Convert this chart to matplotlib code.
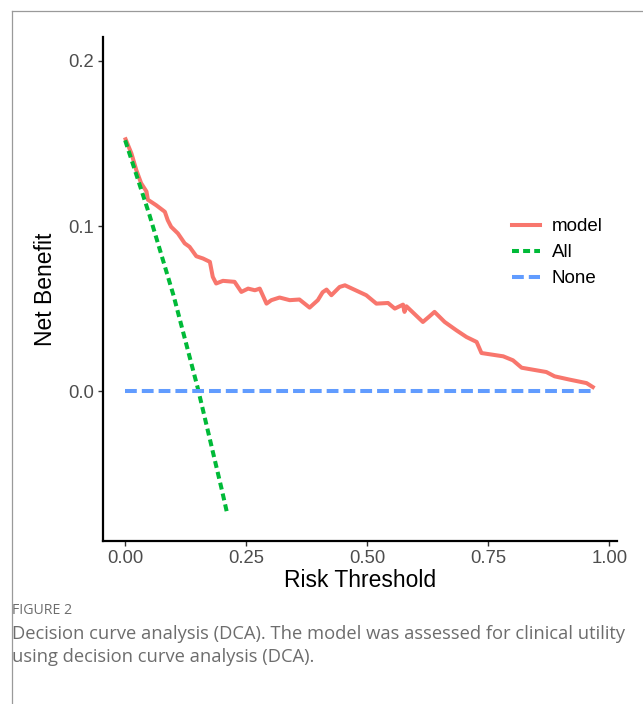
import matplotlib.pyplot as plt
from matplotlib.lines import Line2D

plt.rcParams['font.family'] = ['Liberation Sans', 'DejaVu Sans']
plt.rcParams['lines.scale_dashes'] = False

# кривая модели
model_x = [0.001, 0.013, 0.023, 0.033, 0.044, 0.047, 0.064, 0.082, 0.088, 0.095,
           0.109, 0.123, 0.133, 0.147, 0.161, 0.175, 0.181, 0.188, 0.202, 0.226,
           0.240, 0.254, 0.268, 0.278, 0.292, 0.302, 0.319, 0.340, 0.360, 0.381,
           0.398, 0.408, 0.416, 0.426, 0.443, 0.454, 0.498, 0.519, 0.543, 0.557,
           0.574, 0.577, 0.581, 0.615, 0.627, 0.639, 0.660, 0.684, 0.705, 0.726,
           0.736, 0.781, 0.801, 0.819, 0.870, 0.887, 0.918, 0.953, 0.966]
model_y = [0.1526, 0.144, 0.134, 0.126, 0.121, 0.116, 0.1127, 0.1087, 0.1036, 0.0996,
           0.0956, 0.0896, 0.0875, 0.0818, 0.0804, 0.0784, 0.0693, 0.0653, 0.0669, 0.0663,
           0.0602, 0.0622, 0.0612, 0.0622, 0.0531, 0.0552, 0.0568, 0.0552, 0.0556, 0.0507,
           0.0552, 0.0600, 0.0616, 0.0582, 0.0632, 0.0642, 0.0582, 0.0531, 0.0535, 0.0501,
           0.0525, 0.0481, 0.0515, 0.0420, 0.0450, 0.0481, 0.0420, 0.0370, 0.0329, 0.0299,
           0.0232, 0.0212, 0.0188, 0.0143, 0.0117, 0.0091, 0.0071, 0.0050, 0.0026]

# стратегия "лечить всех"
all_x = [0.0, 0.05, 0.10, 0.15, 0.20, 0.21]
all_y = [0.152, 0.107, 0.058, 0.002, -0.060, -0.073]

# стратегия "не лечить никого"
none_x = [0.0, 0.966]
none_y = [0.0, 0.0]

x_ticks = [0.0, 0.25, 0.5, 0.75, 1.0]
x_labels = ['0.00', '0.25', '0.50', '0.75', '1.00']
y_ticks = [0.0, 0.1, 0.2]
y_labels = ['0.0', '0.1', '0.2']

fig = plt.figure(figsize=(6.43, 7.04), dpi=100)
ax = fig.add_axes([0.160, 0.232, 0.7996, 0.7154])

ax.plot(model_x, model_y, color='#f8766d', lw=2.9, label='model', solid_joinstyle='round')
ax.plot(all_x, all_y, color='#00ba38', lw=2.9, dashes=(5, 3), label='All')
ax.plot(none_x, none_y, color='#619cff', lw=2.9, dashes=(8.5, 3.6), label='None')

ax.set_xlim(-0.046, 1.016)
ax.set_ylim(-0.0904, 0.2145)
ax.set_xticks(x_ticks)
ax.set_xticklabels(x_labels)
ax.set_yticks(y_ticks)
ax.set_yticklabels(y_labels)
ax.tick_params(axis='both', labelsize=13.3, labelcolor='#4d4d4d', color='#333333',
               length=3.5, width=1.0, pad=3)
ax.spines['top'].set_visible(False)
ax.spines['right'].set_visible(False)
ax.spines['left'].set_linewidth(1.6)
ax.spines['bottom'].set_linewidth(1.6)
ax.set_xlabel('Risk Threshold', fontsize=16.5, labelpad=2)
ax.set_ylabel('Net Benefit', fontsize=16.5, labelpad=8)

ax.legend(loc='center left', bbox_to_anchor=(0.796, 0.572), frameon=False, fontsize=13.5,
          handlelength=1.5, handletextpad=0.6, labelspacing=0.47,
          borderpad=0, borderaxespad=0)

# рамка страницы
fig.add_artist(Line2D([11.5 / 643, 11.5 / 643], [0, 1 - 10.5 / 704],
                      transform=fig.transFigure, color='#9a9a9a', lw=0.9))
fig.add_artist(Line2D([11.5 / 643, 1], [1 - 10.5 / 704, 1 - 10.5 / 704],
                      transform=fig.transFigure, color='#9a9a9a', lw=0.9))

# подпись
fig.text(12 / 643, 1 - 611 / 704, 'FIGURE 2', fontsize=10.2, color='#6d6d6d',
         family=['Open Sans', 'DejaVu Sans'], va='center')
fig.text(12 / 643, 1 - 634 / 704,
         'Decision curve analysis (DCA). The model was assessed for clinical utility',
         fontsize=13.2, color='#6d6d6d', family=['Open Sans', 'DejaVu Sans'], va='center')
fig.text(12 / 643, 1 - 657 / 704, 'using decision curve analysis (DCA).',
         fontsize=13.2, color='#6d6d6d', family=['Open Sans', 'DejaVu Sans'], va='center')

fig.savefig('out.png', dpi=100)
